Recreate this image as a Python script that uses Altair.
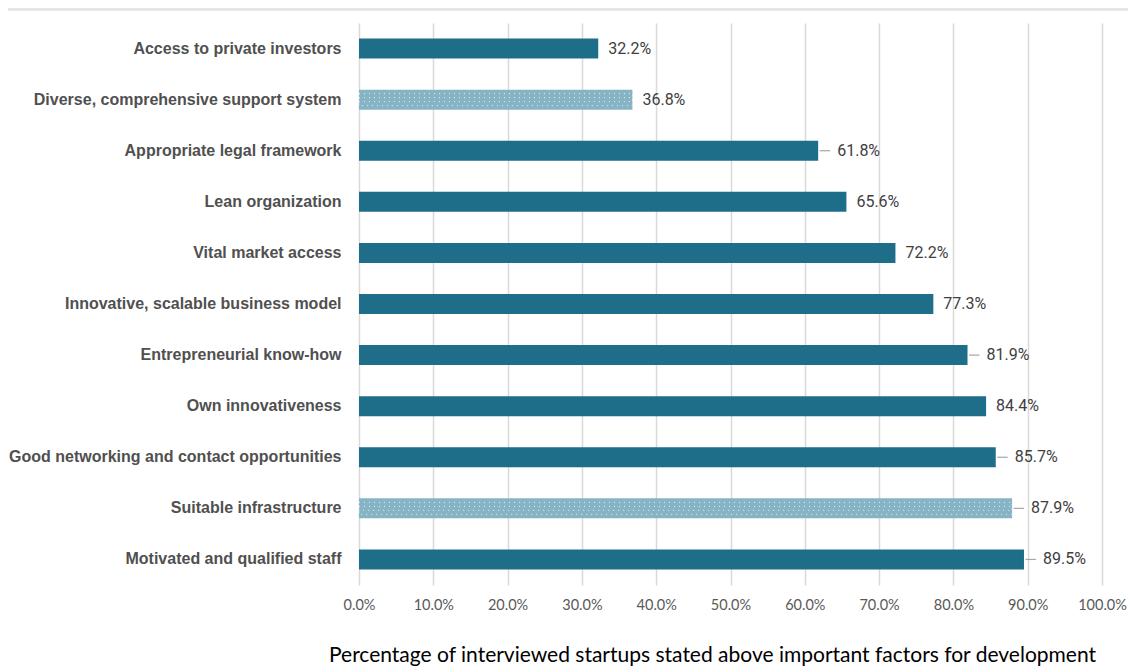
import altair as alt
import pandas as pd

factors = [
    "Access to private investors",
    "Diverse, comprehensive support system",
    "Appropriate legal framework",
    "Lean organization",
    "Vital market access",
    "Innovative, scalable business model",
    "Entrepreneurial know-how",
    "Own innovativeness",
    "Good networking and contact opportunities",
    "Suitable infrastructure",
    "Motivated and qualified staff",
]
values = [32.2, 36.8, 61.8, 65.6, 72.2, 77.3, 81.9, 84.4, 85.7, 87.9, 89.5]
highlighted = [False, True, False, False, False, False, False, False, False, True, False]
leader = [False, False, True, False, False, False, True, False, True, True, True]

df = pd.DataFrame({
    "factor": factors,
    "value": values,
    "hl": ["yes" if h else "no" for h in highlighted],
    "leader": leader,
    "label": [f"{v:.1f}%" for v in values],
})

y_enc = alt.Y("factor:N", sort=factors, title=None,
              scale=alt.Scale(paddingInner=0.6, paddingOuter=0.3),
              axis=alt.Axis(labelFont="Liberation Sans", labelFontWeight="bold", labelFontSize=16,
                            labelColor="#505050", labelPadding=18, ticks=False,
                            domain=False, labelLimit=400))
x_scale = alt.Scale(domain=[0, 100], nice=False)

bars = alt.Chart(df).mark_bar(size=20).encode(
    x=alt.X("value:Q", scale=x_scale, title=None,
            axis=alt.Axis(values=list(range(0, 101, 10)), labelExpr="format(datum.value, '.1f') + '%'",
                          labelFont="Lato", labelFontSize=14.5, labelColor="#595959",
                          labelPadding=13, ticks=False, domain=False, labelFlush=False,
                          labelOverlap=False, gridColor="#d9d9d9", gridWidth=1.5)),
    y=y_enc,
    color=alt.Color("hl:N", scale=alt.Scale(domain=["no", "yes"], range=["#1e6e8a", "#86b4c4"]),
                    legend=None),
)

dots = alt.Chart(df).transform_filter("datum.hl == 'yes'").mark_bar(
    size=12, fill=None, stroke="#ffffff", strokeWidth=1, strokeDash=[1, 4], strokeOpacity=0.8
).encode(x=alt.X("value:Q", scale=x_scale), y=alt.Y("factor:N", sort=factors))

dots2 = alt.Chart(df).transform_filter("datum.hl == 'yes'").mark_bar(
    size=4, fill=None, stroke="#ffffff", strokeWidth=1, strokeDash=[1, 4], strokeOpacity=0.8
).encode(x=alt.X("value:Q", scale=x_scale), y=alt.Y("factor:N", sort=factors))

lines = alt.Chart(df).transform_filter("datum.leader").transform_calculate(
    x1="datum.value + 0.2", x2="datum.value + 1.6"
).mark_rule(color="#a6a6a6", strokeWidth=1.2).encode(
    x=alt.X("x1:Q", scale=x_scale), x2="x2:Q", y=alt.Y("factor:N", sort=factors)
)

text_lead = alt.Chart(df).transform_filter("datum.leader").mark_text(
    align="left", baseline="middle", dx=19, font="Roboto", fontSize=16, color="#404040"
).encode(x=alt.X("value:Q", scale=x_scale), y=alt.Y("factor:N", sort=factors), text="label:N")

text_plain = alt.Chart(df).transform_filter("!datum.leader").mark_text(
    align="left", baseline="middle", dx=10, font="Roboto", fontSize=16, color="#404040"
).encode(x=alt.X("value:Q", scale=x_scale), y=alt.Y("factor:N", sort=factors), text="label:N")

top_line = alt.Chart(df).mark_rule(color="#e6e6e6", strokeWidth=2.5, clip=False).encode(
    x=alt.value(-355), x2=alt.value(769), y=alt.value(-14)
)

chart = alt.layer(top_line, bars, dots, dots2, lines, text_lead, text_plain).properties(
    width=743, height=562,
    autosize=alt.AutoSizeParams(type="none"),
    padding={"left": 351, "top": 15, "right": 26, "bottom": 95},
    title=alt.Title("Percentage of interviewed startups stated above important factors for development",
                    orient="bottom", offset=33, dx=-18, fontSize=21, font="Lato",
                    fontWeight="normal", color="#000000"),
).configure_view(stroke=None).configure_axisY(grid=False)

chart.save("out.html", embed_options={"renderer": "svg", "actions": False})
